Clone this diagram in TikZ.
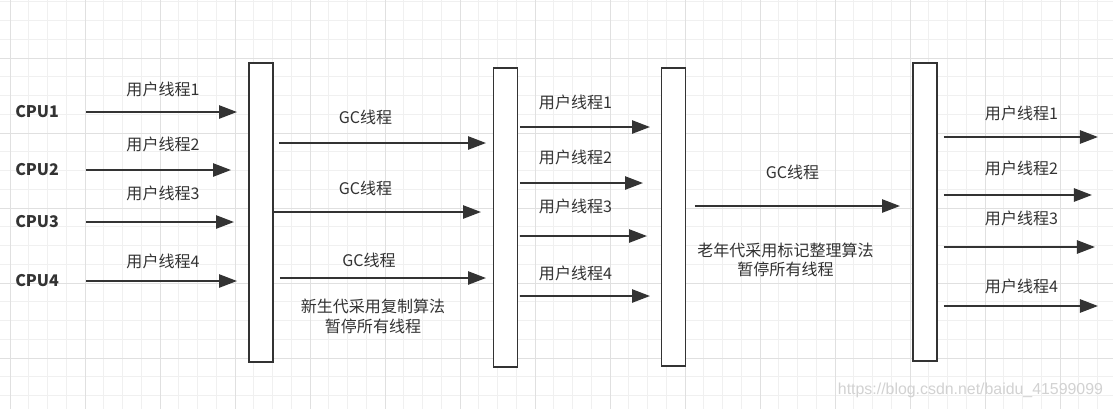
\documentclass[tikz,border=0pt]{standalone}
\usepackage{fontspec}
\setmainfont{Noto Sans CJK SC}
\newfontfamily\urlfont{Liberation Sans}
\usetikzlibrary{calc,arrows.meta}

\definecolor{ink}{HTML}{333333}
\definecolor{minorgrid}{HTML}{F0F0F0}
\definecolor{majorgrid}{HTML}{E0E0E0}
\definecolor{wmark}{HTML}{D2D2D2}

\begin{document}
\begin{tikzpicture}[x=0.025cm,y=-0.025cm,
    bar/.style={draw=ink,line width=1.4pt,fill=white,minimum width=0.6cm,minimum height=7.45cm,inner sep=0pt},
    cpu/.style={anchor=west,text=ink,font=\fontsize{11.4}{13}\selectfont\bfseries,inner sep=0pt},
    tag/.style={text=ink,font=\fontsize{11.4}{13}\selectfont,inner sep=0pt},
    note/.style={text=ink,font=\fontsize{11.4}{13.8}\selectfont,align=center,inner sep=0pt},
    arrow/.style={draw=ink,line width=1.4pt,-{Triangle[length=0.45cm,width=0.33cm]}}]
  \fill[white] (0,0) rectangle (1113,409);
  \useasboundingbox (0,0) rectangle (1113,409);

  % grid paper
  \foreach \i in {0,...,58}
    \draw[minorgrid,line width=0.7pt] ({10+18.75*\i},0) -- ++(0,409);
  \foreach \i in {0,...,21}
    \draw[minorgrid,line width=0.7pt] (0,{1.75+18.75*\i}) -- ++(1113,0);
  \foreach \i in {0,...,14}
    \draw[majorgrid,line width=0.7pt] ({10+75*\i},0) -- ++(0,409);
  \foreach \i in {0,...,4}
    \draw[majorgrid,line width=0.7pt] (0,{58+75*\i}) -- ++(1113,0);

  \node[bar] (barrier 1) at (261,212.5) {};
  \node[bar] (barrier 2) at (505.5,217.5) {};
  \node[bar] (barrier 3) at (673.5,217) {};
  \node[bar] (barrier 4) at (925,212) {};

  \node[cpu] (cpu1) at (15,112) {CPU1};
  \node[cpu] (cpu2) at (15,170) {CPU2};
  \node[cpu] (cpu3) at (15,222) {CPU3};
  \node[cpu] (cpu4) at (15,281) {CPU4};

  \node[tag] (user a1) at (163,89) {用户线程1};
  \node[tag] (user a2) at (163,144) {用户线程2};
  \node[tag] (user a3) at (163,193) {用户线程3};
  \node[tag] (user a4) at (163,261) {用户线程4};

  \node[tag] (gc young1) at (365.5,117) {GC线程};
  \node[tag] (gc young2) at (365.5,188) {GC线程};
  \node[tag] (gc young3) at (369,260) {GC线程};
  \node[note] (young note) at (373,316.5) {新生代采用复制算法\\暂停所有线程};

  \node[tag] (user b1) at (575.5,102) {用户线程1};
  \node[tag] (user b2) at (575.5,157) {用户线程2};
  \node[tag] (user b3) at (575.5,206) {用户线程3};
  \node[tag] (user b4) at (575.5,273) {用户线程4};

  \node[tag] (gc old) at (792.5,172) {GC线程};
  \node[note] (old note) at (785.5,260) {老年代采用标记整理算法\\暂停所有线程};

  \node[tag] (user c1) at (1021.5,113) {用户线程1};
  \node[tag] (user c2) at (1021.5,168) {用户线程2};
  \node[tag] (user c3) at (1021.5,218) {用户线程3};
  \node[tag] (user c4) at (1021.5,286) {用户线程4};

  \node[text=wmark,font=\urlfont\fontsize{11.3}{13}\selectfont,inner sep=0pt] (url) at (970.5,390) {https://blog.csdn.net/baidu\_41599099};

  \draw[arrow] ($ (cpu1.west) + (71,0) $) -- ($ (barrier 1.west |- cpu1.west) + (-11,0) $);
  \draw[arrow] ($ (cpu2.west) + (71,0) $) -- ($ (barrier 1.west |- cpu2.west) + (-17,0) $);
  \draw[arrow] ($ (cpu3.west) + (71,0) $) -- ($ (barrier 1.west |- cpu3.west) + (-14,0) $);
  \draw[arrow] ($ (cpu4.west) + (71,0) $) -- ($ (barrier 1.west |- cpu4.west) + (-11,0) $);

  \draw[arrow] ($ (barrier 1.east) + (5,-69.5) $) -- ($ (barrier 2.west) + (-6.5,-74.5) $);
  \draw[arrow] ($ (barrier 1.east) + (0,-0.5) $) -- ($ (barrier 2.west) + (-11.5,-5.5) $);
  \draw[arrow] ($ (barrier 1.east) + (6,65.5) $) -- ($ (barrier 2.west) + (-6.5,60.5) $);

  \draw[arrow] ($ (barrier 2.east) + (1.5,-90.5) $) -- ($ (barrier 3.west) + (-10.5,-90) $);
  \draw[arrow] ($ (barrier 2.east) + (1.5,-34.5) $) -- ($ (barrier 3.west) + (-17.5,-34) $);
  \draw[arrow] ($ (barrier 2.east) + (1.5,18.5) $) -- ($ (barrier 3.west) + (-13.5,19) $);
  \draw[arrow] ($ (barrier 2.east) + (1.5,78.5) $) -- ($ (barrier 3.west) + (-10.5,79) $);

  \draw[arrow] ($ (barrier 3.east) + (8.5,-11) $) -- ($ (barrier 4.west) + (-12,-6) $);

  \draw[arrow] ($ (barrier 4.east) + (6,-75) $) -- ++(154,0);
  \draw[arrow] ($ (barrier 4.east) + (6,-17) $) -- ++(148,0);
  \draw[arrow] ($ (barrier 4.east) + (6,35) $) -- ++(151,0);
  \draw[arrow] ($ (barrier 4.east) + (6,94) $) -- ++(154,0);
\end{tikzpicture}
\end{document}
